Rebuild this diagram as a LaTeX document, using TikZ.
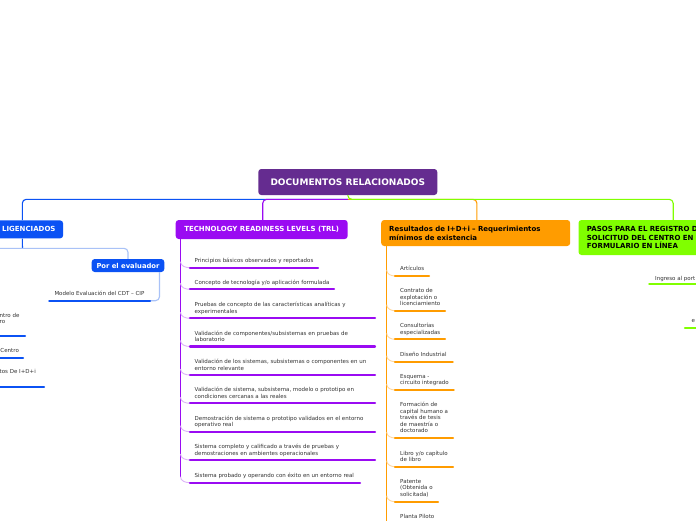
\documentclass[tikz,border=0pt]{standalone}
\usepackage{fontspec}
\setmainfont{DejaVu Sans}
\definecolor{cdoc}{HTML}{652C90}
\definecolor{cblue}{HTML}{0B52F4}
\definecolor{lblue}{HTML}{A9C2F7}
\definecolor{cpur}{HTML}{9A0BF2}
\definecolor{lpur}{HTML}{DDB3F9}
\definecolor{corg}{HTML}{FF9C00}
\definecolor{lorg}{HTML}{FFD8A0}
\definecolor{cgrn}{HTML}{80FF00}
\definecolor{txt}{HTML}{333333}
\newcommand{\tItem}[5]{%
  \node[tx] (#1) at (194.5,{#2-2.8}) {#3};
  \coordinate (#1a) at (190,#4); \coordinate (#1b) at (#5,#4);
  \draw[brP] (180.5,{#4-6}) to[out=-90,in=180] (#1a);
  \draw[ul,cpur] (#1a) -- (#1b);
}
\newcommand{\oItem}[5]{%
  \node[tx] (#1) at (400,{#2-2.8}) {#3};
  \coordinate (#1a) at (395,#4); \coordinate (#1b) at (#5,#4);
  \draw[brO] (386.7,{#4-6}) to[out=-90,in=180] (#1a);
  \draw[ul,corg] (#1a) -- (#1b);
}
\begin{document}
\begin{tikzpicture}[x=1pt,y=-1pt,
  hd/.style={rounded corners=3pt, inner ysep=0pt, font=\fontsize{7}{9}\selectfont\bfseries},
  tx/.style={inner sep=0pt, anchor=north west, align=left, text=txt, font=\fontsize{5.5}{6.5}\selectfont},
  ul/.style={line width=2.3pt, line cap=round},
  conn/.style={line width=1.1pt, rounded corners=4pt},
  brP/.style={lpur, line width=0.9pt},
  brO/.style={lorg, line width=0.9pt},
]
\useasboundingbox (0,0) rectangle (696,520);
\fill[white] (0,0) rectangle (696,520);
\clip (0,0) rectangle (696,520);

% headers
\node[hd, fill=cdoc, text=white, minimum width=179pt, minimum height=26pt, font=\fontsize{9}{11}\selectfont\bfseries] (doc) at (347.8,182) {DOCUMENTOS RELACIONADOS};
\node[hd, fill=cblue, text=white, anchor=east, minimum height=18pt, inner xsep=7.6pt, text width=66.4pt, align=right] (dil) at (63.3,229.4) {LIGENCIADOS};
\node[hd, fill=cpur, text=white, minimum width=172pt, minimum height=19pt] (trl) at (261.7,229.5) {TECHNOLOGY READINESS LEVELS (TRL)};
\node[hd, fill=corg, text=black, anchor=west, minimum height=26pt, inner xsep=8pt, text width=173pt, align=left] (res) at (381,233) {Resultados de I+D+i -- Requerimientos\\mínimos de existencia};
\node[hd, fill=cgrn, text=black, anchor=west, minimum height=35pt, inner xsep=8.4pt, text width=172.6pt, align=left, font=\fontsize{7}{8.7}\selectfont\bfseries] (pas) at (578.3,237.5) {PASOS PARA EL REGISTRO D\\SOLICITUD DEL CENTRO EN\\FORMULARIO EN LÍNEA};
\node[hd, fill=cblue, text=white, minimum width=72.6pt, minimum height=13pt, font=\fontsize{6.8}{8}\selectfont\bfseries] (eva) at (128,265.5) {Por el evaluador};

% main connectors
\coordinate (j) at (347.8,199.3);
\draw[conn, cblue] (j) -| (dil.north);
\draw[conn, cpur] (j) -| ([xshift=1pt]trl.north);
\draw[conn, corg] (j) -| ([xshift=1.2pt]res.north);
\draw[conn, cgrn] (doc.south) -- (j) -| (pas.north);

% left branch
\coordinate (lb) at (22.5,248.3);
\coordinate (lb0) at (-5,248.3);
\draw[line width=1.1pt, cblue] (dil.south) -- (lb);
\draw[conn, lblue] (lb0) -| (eva.north);
\node[tx] (mod) at (54.3,{294-2.8}) {Modelo Evaluación del CDT -- CIP};
\coordinate (m1) at (49.3,300.7); \coordinate (m2) at (150,300.7);
\draw[conn, lblue] ([xshift=-5pt]eva.south east) |- (m2);
\draw[ul, cblue] (m1) -- (m2);

\node[tx] (l1) at (-0.5,{315.7-2.8}) {ntro de\\ro};
\coordinate (l1a) at (-5,336); \coordinate (l1b) at (25,336);
\draw[ul, cblue] (l1a) -- (l1b);
\node[tx] (l2) at (0.3,{351-2.8}) {Centro};
\coordinate (l2a) at (-5,357.7); \coordinate (l2b) at (23,357.7);
\draw[ul, cblue] (l2a) -- (l2b);
\node[tx] (l3) at (-0.5,{372-2.8}) {tos De I+D+i};
\coordinate (l3a) at (-5,386.7); \coordinate (l3b) at (44,386.7);
\draw[ul, cblue] (l3a) -- (l3b);

% TRL column
\coordinate (tt) at (180.5,238.5);
\coordinate (tb) at (180.5,477);
\draw[line width=1.1pt, cpur] (tt) -- (tb);
\tItem{t1}{261}{Principios básicos observados y reportados}{267.7}{318}
\tItem{t2}{282.7}{Concepto de tecnología y/o aplicación formulada}{289.3}{334}
\tItem{t3}{305}{Pruebas de concepto de las características analíticas y\\experimentales}{318.3}{375}
\tItem{t4}{333.3}{Validación de componentes/subsistemas en pruebas de\\laboratorio}{346.5}{375}
\tItem{t5}{361.7}{Validación de los sistemas, subsistemas o componentes en un\\entorno relevante}{375}{375}
\tItem{t6}{390}{Validación de sistema, subsistema, modelo o prototipo en\\condiciones cercanas a las reales}{403.3}{375}
\tItem{t7}{418.3}{Demostración de sistema o prototipo validados en el entorno\\operativo real}{431.7}{375}
\tItem{t8}{446.7}{Sistema completo y calificado a través de pruebas y\\demostraciones en ambientes operacionales}{460}{375}
\tItem{t9}{476}{Sistema probado y operando con éxito en un entorno real}{482.7}{360}

% Orange column
\coordinate (ot) at (386.7,246);
\coordinate (ob) at (386.7,525);
\draw[line width=1.1pt, corg] (ot) -- (ob);
\oItem{o1}{269}{Artículos}{276}{429}
\oItem{o2}{291}{Contrato de\\explotación o\\licenciamiento}{310.7}{445}
\oItem{o3}{326}{Consultorías\\especializadas}{339.3}{445}
\oItem{o4}{355}{Diseño Industrial}{361.7}{452.7}
\oItem{o5}{376.7}{Esquema -\\circuito integrado}{390}{453.7}
\oItem{o6}{405}{Formación de\\capital humano a\\través de tesis\\de maestría o\\doctorado}{438}{453}
\oItem{o7}{453.3}{Libro y/o capítulo\\de libro}{466.7}{453}
\oItem{o8}{481.7}{Patente\\(Obtenida o\\solicitada)}{501.7}{438}
\node[tx] (o9) at (400,{516.7-2.8}) {Planta Piloto};

% Green column
\node[tx] (g1) at (655,{278.5-2.8}) {Ingreso al port};
\coordinate (g1a) at (649.3,284.3); \coordinate (g1b) at (702,284.3);
\draw[ul, cgrn] (g1a) -- (g1b);
\node[tx] (g2) at (691.5,{321.7-2.8}) {e};
\coordinate (g2a) at (685,328.3); \coordinate (g2b) at (702,328.3);
\draw[ul, cgrn] (g2a) -- (g2b);
\end{tikzpicture}
\end{document}
